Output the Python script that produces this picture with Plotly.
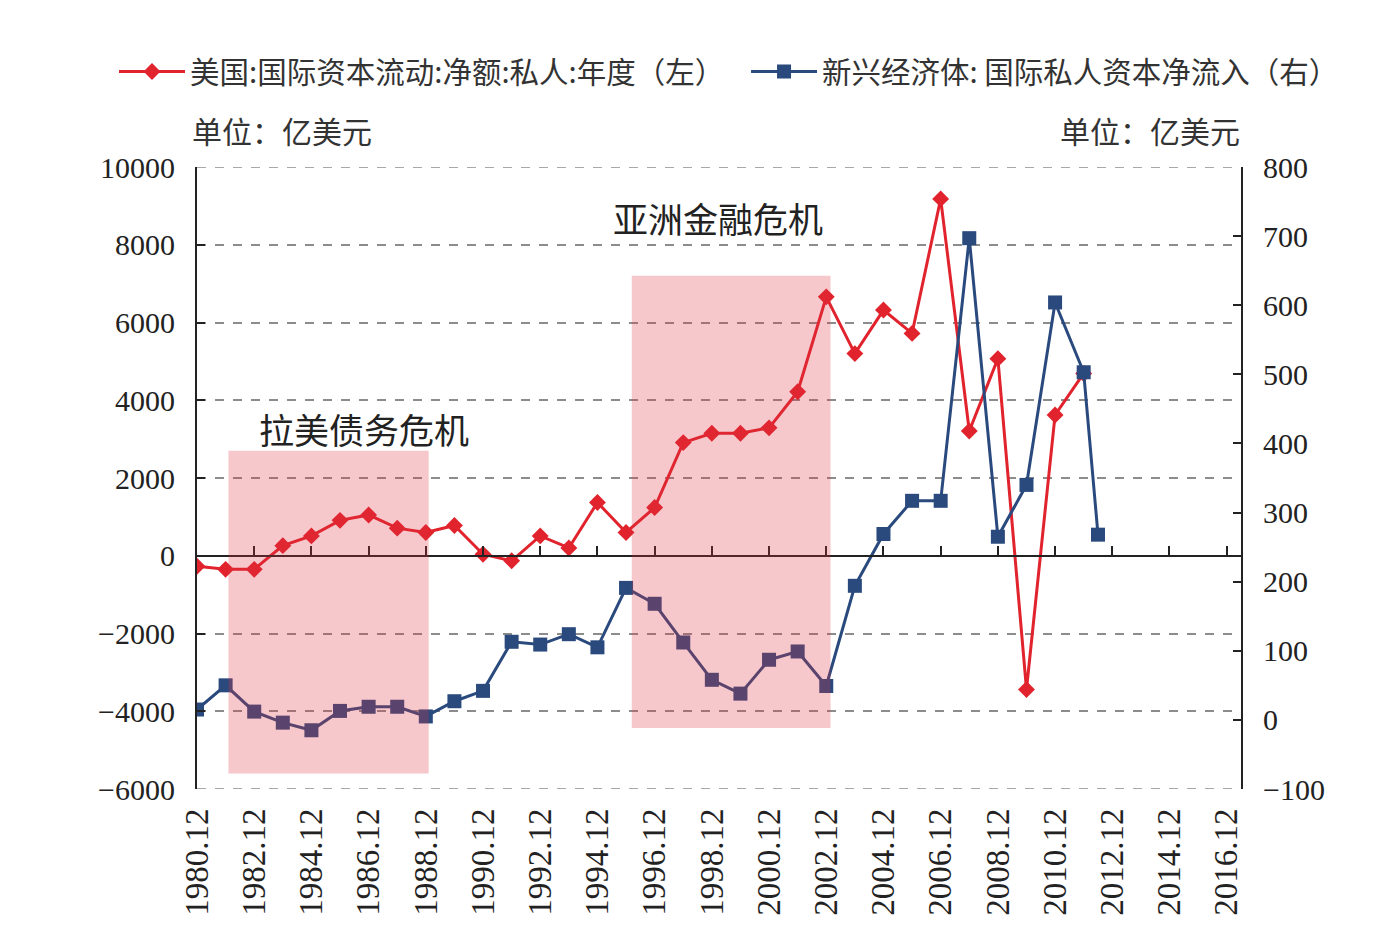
import plotly.graph_objects as go

# ---------------- data ----------------
us_years = list(range(1980, 2012))
us_private_net = [-270, -350, -350, 260, 510, 910, 1050, 710, 600, 780, 40, -130, 510, 200,
                  1370, 600, 1240, 2910, 3150, 3150, 3290, 4220, 6660, 5200, 6320, 5720,
                  9180, 3210, 5070, -3440, 3620, 4690]

em_years = list(range(1980, 2012)) + [2011.5]
em_private_inflow = [15, 50, 12, -4, -15, 13, 19, 19, 5, 27, 42, 113, 109, 124, 105, 191, 168,
                     112, 58, 38, 87, 99, 49, 194, 269, 317, 317, 697, 265, 340, 604, 503, 268]

tick_years = list(range(1980, 2017, 2))
tick_labels = [f"{y}.12" for y in tick_years]
left_ticks = list(range(-6000, 10001, 2000))
right_ticks = list(range(-100, 801, 100))

crises = [
    {"name": "拉美债务危机", "x0": 1981.1, "x1": 1988.1, "y0": -5600, "y1": 2700,
     "lx": 1985.85, "ly": 3270},
    {"name": "亚洲金融危机", "x0": 1995.2, "x1": 2002.15, "y0": -4430, "y1": 7200,
     "lx": 1998.22, "ly": 8690},
]

name_us = "美国:国际资本流动:净额:私人:年度（左）"
name_em = "新兴经济体: 国际私人资本净流入（右）"

RED = "#E1232D"
BLUE = "#2A4A7E"
CJK = "Noto Sans CJK SC"
NUM = "Liberation Serif"

fig = go.Figure()

fig.add_trace(go.Scatter(
    x=us_years, y=us_private_net, name=name_us, mode="lines+markers",
    line=dict(color=RED, width=3),
    marker=dict(symbol="diamond", size=13, color=RED),
    xaxis="x", yaxis="y", legend="legend",
))
fig.add_trace(go.Scatter(
    x=em_years, y=em_private_inflow, name=name_em, mode="lines+markers",
    line=dict(color=BLUE, width=3),
    marker=dict(symbol="square", size=14, color=BLUE),
    xaxis="x", yaxis="y2", legend="legend2",
))
# carrier trace for the zero-line tick axis
fig.add_trace(go.Scatter(x=[tick_years[0]], y=[None], xaxis="x2", yaxis="y",
                         showlegend=False, hoverinfo="skip", mode="lines"))

grid_color = "#8C8C8C"

shapes = []
annotations = []
# dashed gridlines at the two range edges
for yv in (left_ticks[0], left_ticks[-1]):
    shapes.append(dict(type="line", xref="paper", yref="y", x0=0, x1=1, y0=yv, y1=yv,
                       line=dict(color=grid_color, width=1.5, dash="9px,9px"), layer="below"))

for c in crises:
    shapes.append(dict(type="rect", xref="x", yref="y", x0=c["x0"], x1=c["x1"],
                       y0=c["y0"], y1=c["y1"], fillcolor="rgb(221,47,62)",
                       opacity=0.27, line=dict(width=0), layer="above"))
    annotations.append(dict(x=c["lx"], y=c["ly"], xref="x", yref="y", text=c["name"],
                            showarrow=False, font=dict(family=CJK, size=35, color="#222"),
                            xanchor="center", yanchor="middle"))

annotations.append(dict(x=0.0, y=1.0, xref="paper", yref="paper", text="单位：亿美元",
                        showarrow=False, xanchor="left", yanchor="bottom", xshift=-7, yshift=13,
                        font=dict(family=CJK, size=30, color="#333")))
annotations.append(dict(x=1.0, y=1.0, xref="paper", yref="paper", text="单位：亿美元",
                        showarrow=False, xanchor="right", yanchor="bottom", xshift=1, yshift=13,
                        font=dict(family=CJK, size=30, color="#333")))

legend_common = dict(orientation="h", y=1.153, xanchor="left", yanchor="middle",
                     font=dict(family=CJK, size=29.5, color="#333"), itemwidth=66,
                     bgcolor="rgba(0,0,0,0)")

fig.update_layout(
    width=1388, height=931,
    margin=dict(l=197, r=147, t=167, b=142),
    paper_bgcolor="white", plot_bgcolor="white",
    showlegend=True,
    legend=dict(x=-0.0795, **legend_common),
    legend2=dict(x=0.5259, **legend_common),
    xaxis=dict(range=[1980, 2016.5], tickvals=tick_years, ticktext=tick_labels,
               tickangle=-90, showgrid=False, zeroline=False, showline=False,
               ticks="", ticklabelstandoff=12,
               tickfont=dict(family=NUM, size=33, color="#222")),
    xaxis2=dict(overlaying="x", anchor="free", position=0.375, range=[1980, 2016.5],
                tickvals=tick_years, showticklabels=False, showgrid=False, zeroline=False,
                showline=True, linecolor="#222", linewidth=2, ticks="inside", ticklen=9,
                tickwidth=2, tickcolor="#222", side="bottom"),
    yaxis=dict(range=[-6000, 10000], tickvals=left_ticks,
               tickformat="d", showgrid=True, gridcolor=grid_color, gridwidth=1.5,
               griddash="9px,9px", zeroline=False, showline=True, linecolor="#222",
               linewidth=2, ticks="inside", ticklen=8, tickwidth=2, tickcolor="#222",
               tickfont=dict(family=NUM, size=30, color="#222"), ticklabelstandoff=14),
    yaxis2=dict(range=[-100, 800], tickvals=right_ticks, tickformat="d",
                overlaying="y", side="right", anchor="x", showgrid=False, zeroline=False,
                showline=True, linecolor="#222", linewidth=2, ticks="inside", ticklen=8,
                tickwidth=2, tickcolor="#222",
                tickfont=dict(family=NUM, size=30, color="#222"), ticklabelstandoff=14),
    shapes=shapes,
    annotations=annotations,
)

fig.write_html("out.html")
